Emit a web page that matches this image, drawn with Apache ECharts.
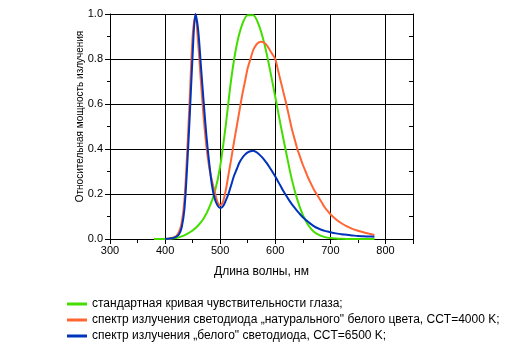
<!DOCTYPE html>
<html>
<head>
<meta charset="utf-8">
<script src="https://cdn.jsdelivr.net/npm/echarts@6/dist/echarts.min.js"></script>
<style>
  html, body { margin: 0; padding: 0; background: #fff; }
  #chart { width: 520px; height: 353px; }
</style>
</head>
<body>
<div id="chart"></div>
<script>
// кривая чувствительности глаза V(λ)
const eyeNm = [380, 390, 400, 410, 420, 430, 440, 450, 460, 470, 480, 490, 500, 510, 520, 530, 540, 550, 560, 570, 580, 590, 600, 610, 620, 630, 640, 650, 660, 670, 680, 690, 700, 710, 720, 730, 740, 750, 760, 770, 780];
const eyeVal = [0.00004, 0.00012, 0.0004, 0.0012, 0.004, 0.0116, 0.023, 0.038, 0.06, 0.091, 0.139, 0.208, 0.323, 0.503, 0.71, 0.862, 0.954, 0.995, 0.995, 0.952, 0.87, 0.757, 0.631, 0.503, 0.381, 0.265, 0.175, 0.107, 0.061, 0.032, 0.017, 0.0082, 0.0041, 0.0021, 0.001, 0.0005, 0.00025, 0.00012, 0.00006, 0.00003, 0.000015];

// светодиод 4000 K
const warmNm = [400, 405, 410, 415, 420, 425, 430, 435, 440, 445, 450, 455, 460, 465, 470, 475, 480, 485, 490, 495, 500, 505, 510, 515, 520, 525, 530, 535, 540, 545, 550, 555, 560, 565, 570, 575, 580, 585, 590, 595, 600, 605, 610, 615, 620, 625, 630, 635, 640, 645, 650, 655, 660, 665, 670, 675, 680, 685, 690, 695, 700, 710, 720, 730, 740, 750, 760, 770, 780];
const warmVal = [0.0, 0.001, 0.003, 0.007, 0.012, 0.03, 0.07, 0.17, 0.38, 0.64, 0.9, 0.99, 0.87, 0.7, 0.54, 0.41, 0.32, 0.26, 0.21, 0.165, 0.15, 0.165, 0.215, 0.285, 0.355, 0.43, 0.5, 0.57, 0.64, 0.7, 0.76, 0.8, 0.84, 0.862, 0.874, 0.877, 0.872, 0.86, 0.84, 0.82, 0.8, 0.75, 0.7, 0.65, 0.6, 0.545, 0.49, 0.445, 0.4, 0.365, 0.33, 0.3, 0.27, 0.245, 0.22, 0.2, 0.18, 0.16, 0.14, 0.125, 0.11, 0.088, 0.07, 0.056, 0.045, 0.037, 0.03, 0.024, 0.018];

// светодиод 6500 K
const coolNm = [400, 405, 410, 415, 420, 425, 430, 435, 440, 445, 450, 455, 460, 465, 470, 475, 480, 485, 490, 495, 500, 505, 510, 515, 520, 525, 530, 535, 540, 545, 550, 555, 560, 565, 570, 575, 580, 585, 590, 595, 600, 605, 610, 615, 620, 625, 630, 635, 640, 645, 650, 655, 660, 665, 670, 675, 680, 685, 690, 695, 700, 710, 720, 730, 740, 750, 760, 770, 780];
const coolVal = [0.0, 0.001, 0.003, 0.005, 0.01, 0.02, 0.05, 0.13, 0.32, 0.56, 0.82, 1.0, 0.93, 0.77, 0.61, 0.46, 0.34, 0.24, 0.18, 0.15, 0.138, 0.145, 0.17, 0.2, 0.24, 0.28, 0.31, 0.34, 0.36, 0.375, 0.385, 0.39, 0.392, 0.387, 0.378, 0.366, 0.352, 0.336, 0.317, 0.298, 0.278, 0.256, 0.234, 0.212, 0.192, 0.173, 0.155, 0.139, 0.124, 0.11, 0.097, 0.086, 0.076, 0.066, 0.057, 0.05, 0.045, 0.04, 0.036, 0.033, 0.03, 0.025, 0.021, 0.019, 0.016, 0.013, 0.012, 0.011, 0.01];

const names = [
  'стандартная кривая чувствительности глаза;',
  'спектр излучения светодиода „натурального" белого цвета, CCT=4000 K;',
  'спектр излучения „белого" светодиода, CCT=6500 K;'
];
const colors = ['#44dd00', '#ff6633', '#0033bb'];

const pairs = (xs, ys) => xs.map((x, i) => [x, ys[i]]);

const font = 'Liberation Sans, Arial, sans-serif';
const axisLine = { show: true, lineStyle: { color: '#000', width: 1 } };
const tickOut = { show: true, length: 5, lineStyle: { color: '#000' } };
const minorOut = { show: true, splitNumber: 2, length: 3, lineStyle: { color: '#000' } };
const tickIn = { show: false, inside: true };
const minorIn = { show: true, splitNumber: 2, length: 4, lineStyle: { color: '#000' } };

const chart = echarts.init(document.getElementById('chart'));
chart.setOption({
  animation: false,
  textStyle: { fontFamily: font },
  grid: { left: 110, right: 107, top: 14, bottom: 114 },
  legend: {
    orient: 'vertical',
    left: 62, top: 293,
    itemWidth: 20, itemHeight: 3, itemGap: 4,
    icon: 'rect',
    textStyle: { fontSize: 12, color: '#000', fontFamily: font },
    data: names
  },
  xAxis: [{
    type: 'value', position: 'bottom',
    min: 300, max: 850, interval: 100,
    name: 'Длина волны, нм', nameLocation: 'middle', nameGap: 27,
    nameMoveOverlap: false,
    nameTextStyle: { fontSize: 12, color: '#000' },
    axisLine, axisTick: tickOut, minorTick: minorOut,
    axisLabel: { fontSize: 11, color: '#000', margin: 6,
      formatter: v => (v > 800 ? '' : String(v)) },
    splitLine: { show: true, lineStyle: { color: '#000', width: 1 } }
  }, {
    type: 'value', position: 'top',
    min: 300, max: 850, interval: 100,
    axisLine, axisTick: tickIn, minorTick: minorIn,
    axisLabel: { show: false },
    splitLine: { show: false }
  }],
  yAxis: [{
    type: 'value', position: 'left',
    min: 0, max: 1, interval: 0.2,
    name: 'Относительная мощность излучения', nameLocation: 'middle', nameGap: 25,
    nameMoveOverlap: false,
    nameTextStyle: { fontSize: 10, color: '#000', padding: [0, 0, 0, 20] },
    axisLine, axisTick: tickOut, minorTick: minorOut,
    axisLabel: { fontSize: 11, color: '#000', margin: 7, formatter: v => v.toFixed(1) },
    splitLine: { show: true, lineStyle: { color: '#000', width: 1 } }
  }, {
    type: 'value', position: 'right',
    min: 0, max: 1, interval: 0.2,
    axisLine, axisTick: tickIn, minorTick: minorIn,
    axisLabel: { show: false },
    splitLine: { show: false }
  }],
  series: [
    { name: names[0], type: 'line', data: pairs(eyeNm, eyeVal) },
    { name: names[1], type: 'line', data: pairs(warmNm, warmVal) },
    { name: names[2], type: 'line', data: pairs(coolNm, coolVal) }
  ].map((s, i) => Object.assign(s, {
    color: colors[i], showSymbol: false, smooth: 0.3,
    lineStyle: { width: 2, color: colors[i] }, z: 3 + i
  }))
});
</script>
</body>
</html>
